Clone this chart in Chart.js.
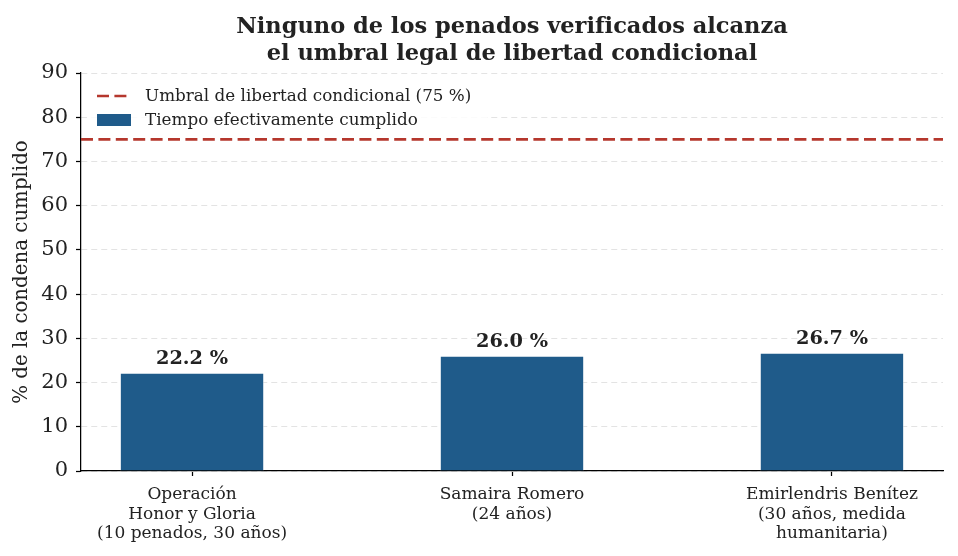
<!DOCTYPE html>
<html lang="es">
<head>
<meta charset="utf-8">
<title>Penados y libertad condicional</title>
<script src="https://cdn.jsdelivr.net/npm/chart.js@4.4.1/dist/chart.umd.min.js"></script>
<style>
    html, body { margin: 0; padding: 0; background: #ffffff; }
    #wrap { width: 958px; height: 556px; position: relative; }
</style>
</head>
<body>
<div id="wrap"><canvas id="penadosChart"></canvas></div>
<script>
// Datos
const categorias = [
    ['Operación', 'Honor y Gloria', '(10 penados, 30 años)'],
    ['Samaira Romero', '(24 años)'],
    ['Emirlendris Benítez', '(30 años, medida', 'humanitaria)']
];
const tiempoCumplido = [22.2, 26.0, 26.7];
const umbralLibertad = 75;
const yTicks = [0, 10, 20, 30, 40, 50, 60, 70, 80, 90];
const tituloLineas = [
    'Ninguno de los penados verificados alcanza',
    'el umbral legal de libertad condicional'
];
const etiquetaUmbral = 'Umbral de libertad condicional (75 %)';
const etiquetaBarras = 'Tiempo efectivamente cumplido';

const FONT = "'DejaVu Serif', 'Liberation Serif', serif";
const AZUL = '#1f5b8a';
const ROJO = '#b5372d';
const TEXTO = '#222222';
const X_MIN = -0.347;
const X_MAX = 2.347;
const DASH = [12, 5.4];

document.addEventListener('DOMContentLoaded', function() {
    /**
     * Título de dos líneas centrado sobre el área del gráfico
     */
    const tituloPlugin = {
        id: 'tituloPlugin',
        afterDraw(chart) {
            const ctx = chart.ctx;
            const area = chart.chartArea;
            const cx = (area.left + area.right) / 2;
            ctx.save();
            ctx.fillStyle = TEXTO;
            ctx.font = 'bold 22.5px ' + FONT;
            ctx.textAlign = 'center';
            ctx.textBaseline = 'middle';
            tituloLineas.forEach((linea, i) => {
                ctx.fillText(linea, cx, 27 + i * 27);
            });
            ctx.restore();
        }
    };

    /**
     * Etiquetas de valor sobre cada barra
     */
    const valoresPlugin = {
        id: 'valoresPlugin',
        afterDatasetsDraw(chart) {
            const ctx = chart.ctx;
            const meta = chart.getDatasetMeta(1);
            ctx.save();
            ctx.fillStyle = TEXTO;
            ctx.font = 'bold 19.3px ' + FONT;
            ctx.textAlign = 'center';
            ctx.textBaseline = 'alphabetic';
            meta.data.forEach((bar, i) => {
                ctx.fillText(tiempoCumplido[i].toFixed(1) + ' %', bar.x, bar.y - 9);
            });
            ctx.restore();
        }
    };

    /**
     * Leyenda dentro del área del gráfico (arriba a la izquierda)
     */
    const leyendaPlugin = {
        id: 'leyendaPlugin',
        afterDatasetsDraw(chart) {
            const ctx = chart.ctx;
            const area = chart.chartArea;
            const x0 = area.left + 6;
            const y0 = area.top + 7;
            ctx.save();
            ctx.fillStyle = 'rgba(255,255,255,0.85)';
            ctx.fillRect(x0, y0, 400, 56);

            // Línea discontinua
            ctx.strokeStyle = ROJO;
            ctx.lineWidth = 2.7;
            ctx.setLineDash(DASH);
            ctx.beginPath();
            ctx.moveTo(x0 + 10, y0 + 16);
            ctx.lineTo(x0 + 44, y0 + 16);
            ctx.stroke();
            ctx.setLineDash([]);

            // Rectángulo azul
            ctx.fillStyle = AZUL;
            ctx.fillRect(x0 + 10, y0 + 34, 34, 12);

            ctx.fillStyle = TEXTO;
            ctx.font = '16.8px ' + FONT;
            ctx.textAlign = 'left';
            ctx.textBaseline = 'middle';
            ctx.fillText(etiquetaUmbral, x0 + 58, y0 + 17);
            ctx.fillText(etiquetaBarras, x0 + 58, y0 + 41);
            ctx.restore();
        }
    };

    const ctx = document.getElementById('penadosChart').getContext('2d');
    new Chart(ctx, {
        type: 'bar',
        data: {
            datasets: [{
                type: 'line',
                label: etiquetaUmbral,
                data: [{ x: X_MIN, y: umbralLibertad }, { x: X_MAX, y: umbralLibertad }],
                borderColor: ROJO,
                borderWidth: 2.7,
                borderDash: DASH,
                pointRadius: 0,
                fill: false,
                order: 0
            }, {
                type: 'bar',
                label: etiquetaBarras,
                data: tiempoCumplido.map((v, i) => ({ x: i, y: v })),
                backgroundColor: AZUL,
                borderColor: 'rgba(255,255,255,0.45)',
                borderWidth: 0.8,
                barPercentage: 0.45,
                categoryPercentage: 1,
                order: 1
            }]
        },
        options: {
            responsive: true,
            maintainAspectRatio: false,
            animation: false,
            layout: {
                padding: { top: 73, right: 15, bottom: 0, left: 0 }
            },
            scales: {
                x: {
                    type: 'linear',
                    min: X_MIN,
                    max: X_MAX,
                    offset: false,
                    afterBuildTicks(scale) {
                        scale.ticks = categorias.map((_, i) => ({ value: i }));
                    },
                    afterFit(scale) {
                        scale.height = 85;
                    },
                    ticks: {
                        callback: (value) => categorias[value] || '',
                        color: TEXTO,
                        font: { family: FONT, size: 17, lineHeight: 1.15 },
                        padding: 9,
                        maxRotation: 0,
                        autoSkip: false
                    },
                    grid: {
                        offset: false,
                        drawOnChartArea: false,
                        drawTicks: true,
                        tickLength: 5,
                        tickColor: '#000000',
                        tickWidth: 1.25
                    },
                    border: { display: true, color: '#000000', width: 1.25 }
                },
                y: {
                    min: 0,
                    max: 90,
                    afterBuildTicks(scale) {
                        scale.ticks = yTicks.map(v => ({ value: v }));
                    },
                    afterFit(scale) {
                        scale.width = 81;
                    },
                    ticks: {
                        color: TEXTO,
                        font: { family: FONT, size: 21 },
                        padding: 8
                    },
                    grid: {
                        color: '#e3e3e3',
                        lineWidth: 1,
                        drawTicks: true,
                        tickLength: 5,
                        tickColor: '#000000',
                        tickWidth: 1.25,
                        tickBorderDash: []
                    },
                    border: { display: true, color: '#000000', width: 1.25, dash: [6, 4] },
                    title: {
                        display: true,
                        text: '% de la condena cumplido',
                        color: TEXTO,
                        font: { family: FONT, size: 19.8 },
                        padding: { top: 10, bottom: 0 }
                    }
                }
            },
            plugins: {
                legend: { display: false },
                tooltip: { enabled: false },
                title: { display: false }
            }
        },
        plugins: [tituloPlugin, valoresPlugin, leyendaPlugin]
    });
});
</script>
</body>
</html>
